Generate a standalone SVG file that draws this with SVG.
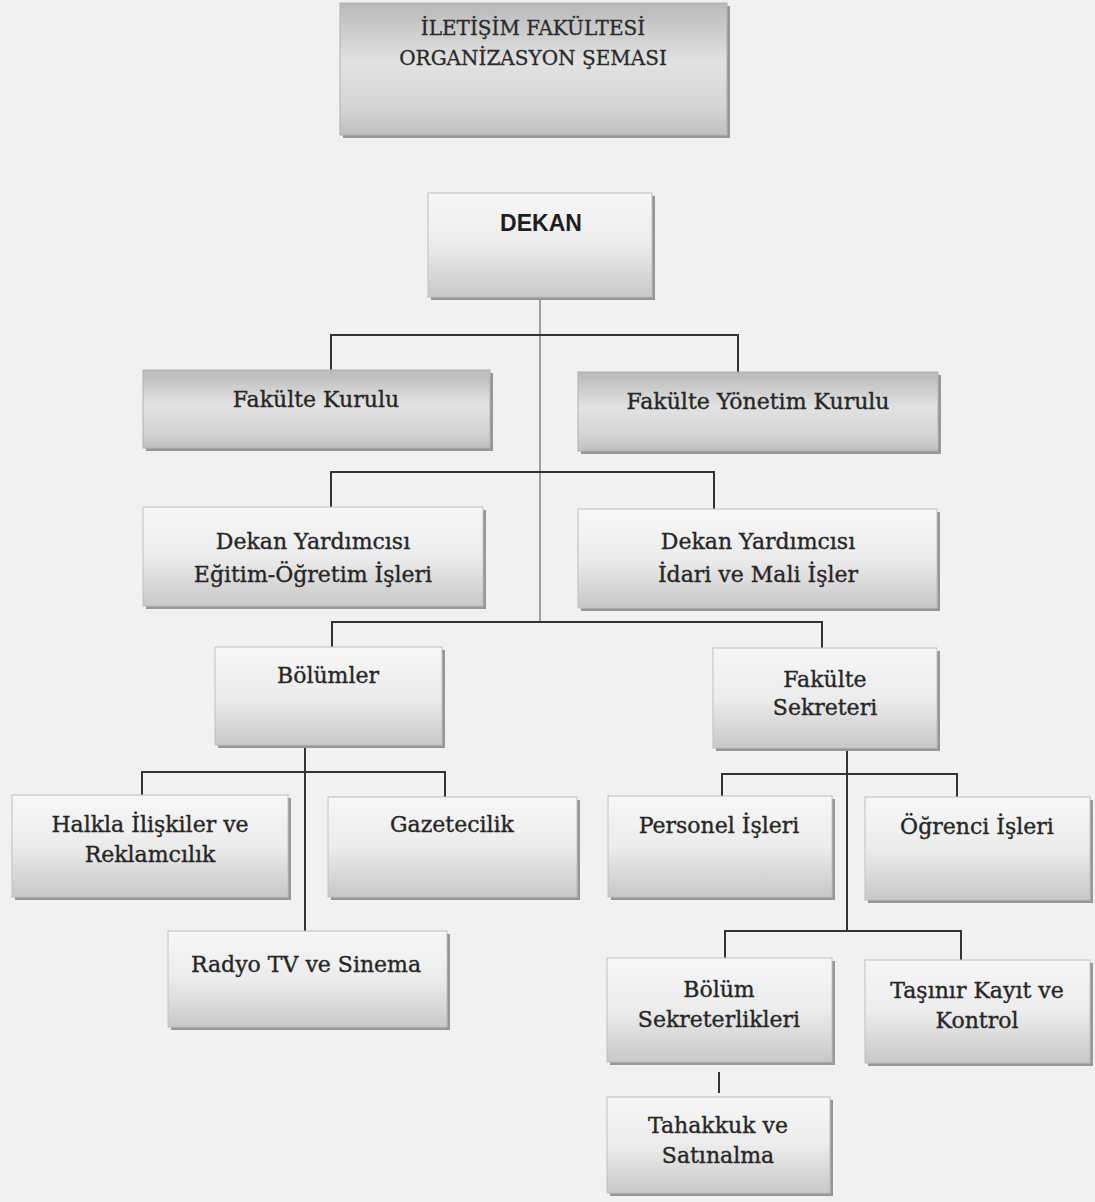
<svg xmlns="http://www.w3.org/2000/svg" width="1095" height="1202" viewBox="0 0 1095 1202">
<defs>
<linearGradient id="gDark" x1="0" y1="0" x2="0" y2="1">
<stop offset="0" stop-color="#b9b9b9"/>
<stop offset="0.45" stop-color="#e2e2e2"/>
<stop offset="0.8" stop-color="#d4d4d4"/>
<stop offset="1" stop-color="#bfbfbf"/>
</linearGradient>
<linearGradient id="gLight" x1="0" y1="0" x2="0" y2="1">
<stop offset="0" stop-color="#f7f7f7"/>
<stop offset="0.5" stop-color="#ececec"/>
<stop offset="1" stop-color="#c8c8c8"/>
</linearGradient>
</defs>
<style>
.bg{fill:#f1f1f1}
.sh{fill:#979797}
.dark{fill:url(#gDark);stroke:#b2b2b2;stroke-width:1}
.light{fill:url(#gLight);stroke:#c0c0c0;stroke-width:1}
.t{font-family:"DejaVu Serif","Liberation Serif",serif;font-size:22px;fill:#262626;stroke:#262626;stroke-width:0.35;text-anchor:middle}
.tt{font-family:"DejaVu Serif","Liberation Serif",serif;font-size:20px;fill:#2a2a2a;stroke:#2a2a2a;stroke-width:0.3;text-anchor:middle}
.tb{font-family:"Liberation Sans","DejaVu Sans",sans-serif;font-size:23px;font-weight:bold;fill:#1e1e1e;text-anchor:middle}
.c{fill:none;stroke:#333;stroke-width:2}
.cm{fill:none;stroke:#6a6a6a;stroke-width:1.2}
</style>
<rect class="bg" x="0" y="0" width="1095" height="1202"/>

<g id="connectors">
<path class="cm" d="M540,297 V622"/>
<path class="c" d="M331,370 V335 H738 V372"/>
<path class="c" d="M331,507 V472 H714 V509"/>
<path class="c" d="M332,647 V622 H822 V648"/>
<path class="c" d="M305,745 V931"/>
<path class="c" d="M142,795 V772 H445 V797"/>
<path class="c" d="M847,748 V931"/>
<path class="c" d="M722,796 V774 H957 V797"/>
<path class="c" d="M725,958 V931 H961 V960"/>
<path class="c" d="M719,1072 V1093"/>
</g>

<g id="title">
<rect class="sh" x="343" y="6" width="387" height="132"/>
<rect class="dark" x="340" y="3" width="387" height="132"/>
<text class="tt" x="533" y="35">İLETİŞİM FAKÜLTESİ</text>
<text class="tt" x="533" y="65">ORGANİZASYON ŞEMASI</text>
</g>

<g id="dekan">
<rect class="sh" x="431" y="196" width="224" height="104"/>
<rect class="light" x="428" y="193" width="224" height="104"/>
<text class="tb" x="541" y="231">DEKAN</text>
</g>

<g id="fakulte-kurulu">
<rect class="sh" x="146" y="373" width="347" height="78"/>
<rect class="dark" x="143" y="370" width="347" height="78"/>
<text class="t" x="316" y="407">Fakülte Kurulu</text>
</g>

<g id="fakulte-yonetim-kurulu">
<rect class="sh" x="581" y="375" width="360" height="79"/>
<rect class="dark" x="578" y="372" width="360" height="79"/>
<text class="t" x="758" y="409">Fakülte Yönetim Kurulu</text>
</g>

<g id="dekan-yrd-egitim">
<rect class="sh" x="146" y="510" width="340" height="99"/>
<rect class="light" x="143" y="507" width="340" height="99"/>
<text class="t" x="313" y="549">Dekan Yardımcısı</text>
<text class="t" x="313" y="582">Eğitim-Öğretim İşleri</text>
</g>

<g id="dekan-yrd-idari">
<rect class="sh" x="581" y="512" width="359" height="99"/>
<rect class="light" x="578" y="509" width="359" height="99"/>
<text class="t" x="758" y="549">Dekan Yardımcısı</text>
<text class="t" x="758" y="582">İdari ve Mali İşler</text>
</g>

<g id="bolumler">
<rect class="sh" x="218" y="650" width="227" height="98"/>
<rect class="light" x="215" y="647" width="227" height="98"/>
<text class="t" x="328" y="683">Bölümler</text>
</g>

<g id="fakulte-sekreteri">
<rect class="sh" x="716" y="651" width="224" height="100"/>
<rect class="light" x="713" y="648" width="224" height="100"/>
<text class="t" x="825" y="687">Fakülte</text>
<text class="t" x="825" y="715">Sekreteri</text>
</g>

<g id="halkla-iliskiler">
<rect class="sh" x="15" y="798" width="276" height="102"/>
<rect class="light" x="12" y="795" width="276" height="102"/>
<text class="t" x="150" y="832">Halkla İlişkiler ve</text>
<text class="t" x="150" y="862">Reklamcılık</text>
</g>

<g id="gazetecilik">
<rect class="sh" x="331" y="800" width="249" height="100"/>
<rect class="light" x="328" y="797" width="249" height="100"/>
<text class="t" x="452" y="832">Gazetecilik</text>
</g>

<g id="radyo-tv">
<rect class="sh" x="171" y="934" width="279" height="96"/>
<rect class="light" x="168" y="931" width="279" height="96"/>
<text class="t" x="306" y="972">Radyo TV ve Sinema</text>
</g>

<g id="personel-isleri">
<rect class="sh" x="611" y="799" width="224" height="101"/>
<rect class="light" x="608" y="796" width="224" height="101"/>
<text class="t" x="719" y="833">Personel İşleri</text>
</g>

<g id="ogrenci-isleri">
<rect class="sh" x="868" y="800" width="225" height="103"/>
<rect class="light" x="865" y="797" width="225" height="103"/>
<text class="t" x="977" y="834">Öğrenci İşleri</text>
</g>

<g id="bolum-sekreterlikleri">
<rect class="sh" x="610" y="961" width="225" height="104"/>
<rect class="light" x="607" y="958" width="225" height="104"/>
<text class="t" x="719" y="997">Bölüm</text>
<text class="t" x="719" y="1027">Sekreterlikleri</text>
</g>

<g id="tasinir-kayit">
<rect class="sh" x="868" y="963" width="225" height="103"/>
<rect class="light" x="865" y="960" width="225" height="103"/>
<text class="t" x="977" y="998">Taşınır Kayıt ve</text>
<text class="t" x="977" y="1028">Kontrol</text>
</g>

<g id="tahakkuk">
<rect class="sh" x="610" y="1100" width="223" height="96"/>
<rect class="light" x="607" y="1097" width="223" height="96"/>
<text class="t" x="718" y="1133">Tahakkuk ve</text>
<text class="t" x="718" y="1163">Satınalma</text>
</g>
</svg>
